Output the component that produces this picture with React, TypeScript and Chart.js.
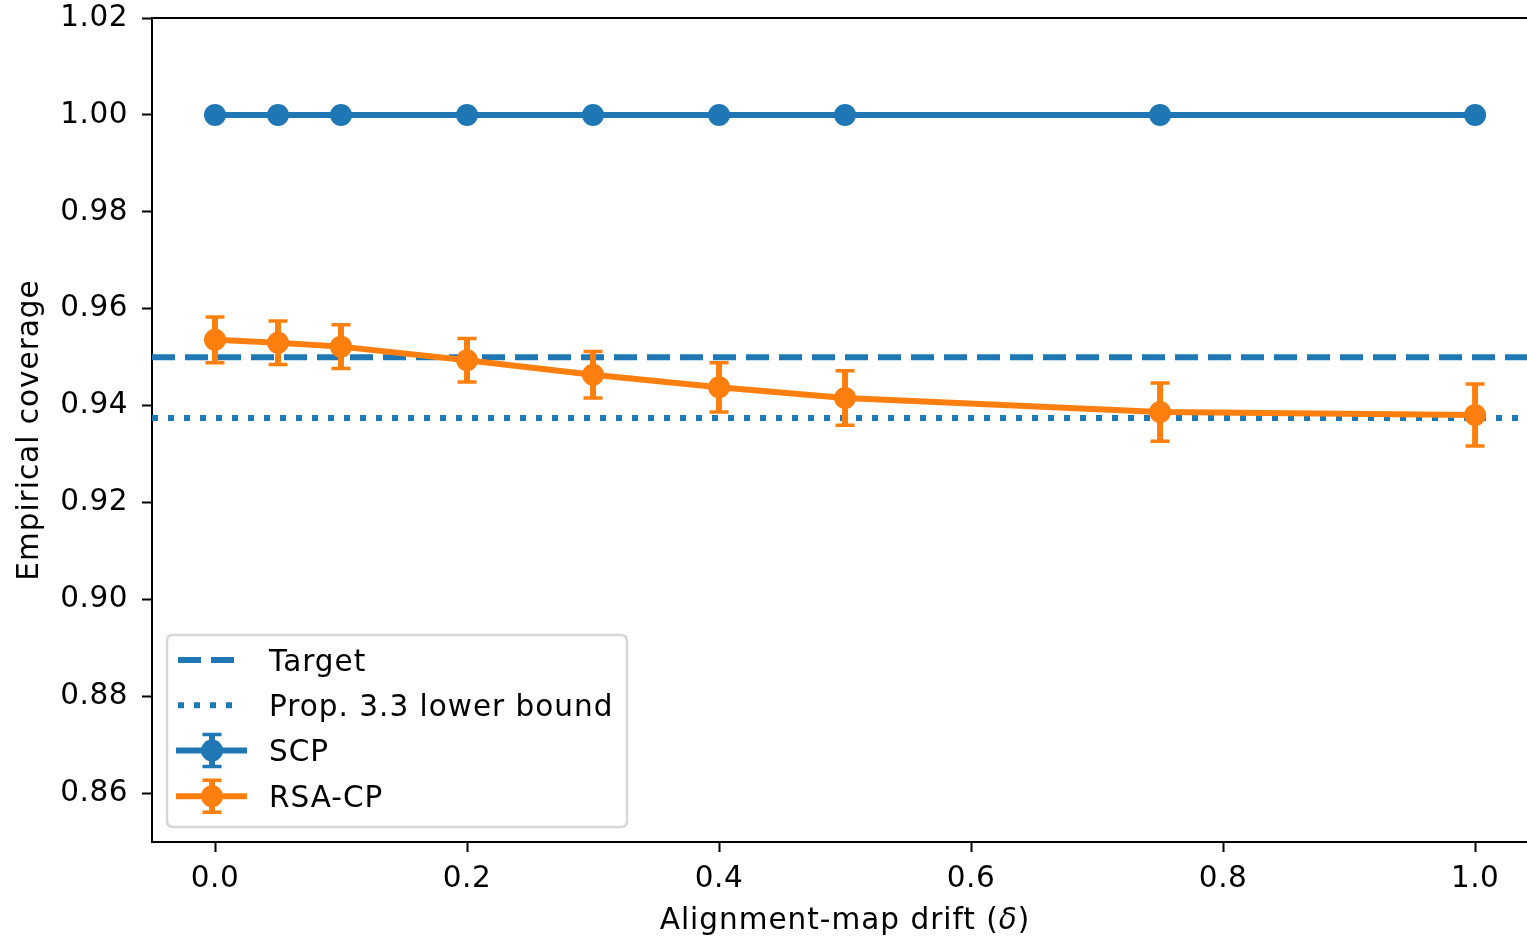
import React, { useEffect, useRef } from 'react';
import { Chart, registerables } from 'chart.js';

Chart.register(...registerables);

// ---------- data ----------
const drift = [0, 0.05, 0.1, 0.2, 0.3, 0.4, 0.5, 0.75, 1.0];
const scpCoverage = [1.0, 1.0, 1.0, 1.0, 1.0, 1.0, 1.0, 1.0, 1.0];
const scpError = [0, 0, 0, 0, 0, 0, 0, 0, 0];
const rsaCoverage = [0.9536, 0.953, 0.9522, 0.9494, 0.9464, 0.9438, 0.9416, 0.9387, 0.9381];
const rsaError = [0.0047, 0.0045, 0.0045, 0.0045, 0.0048, 0.0051, 0.0056, 0.006, 0.0064];
const targetLevel = 0.95;
const lowerBoundLevel = 0.9375;
const xTicks = [0.0, 0.2, 0.4, 0.6, 0.8, 1.0];
const yTicks = [0.86, 0.88, 0.9, 0.92, 0.94, 0.96, 0.98, 1.0, 1.02];
const xRange = [-0.05, 1.0412];
const yRange = [0.85, 1.02];
const xTitle = ['Alignment-map drift (', 'δ', ')'];
const yTitle = 'Empirical coverage';

const BLUE = '#1f77b4';
const ORANGE = '#ff7f0e';
const FONT = "'DejaVu Sans', sans-serif";
const FS = 29.5;

const errorBarPlugin = {
  id: 'errorBars',
  afterDatasetsDraw(chart: any) {
    const { ctx } = chart;
    const xs = chart.scales.x;
    const ys = chart.scales.y;
    chart.data.datasets.forEach((ds: any, di: number) => {
      if (!ds.errors) return;
      const meta = chart.getDatasetMeta(di);
      if (meta.hidden) return;
      ctx.save();
      ctx.strokeStyle = ds.borderColor;
      ds.data.forEach((pt: any, i: number) => {
        const e = ds.errors[i];
        const px = xs.getPixelForValue(pt.x);
        const yt = ys.getPixelForValue(pt.y + e);
        const yb = ys.getPixelForValue(pt.y - e);
        ctx.lineWidth = 6;
        ctx.lineCap = 'butt';
        ctx.beginPath();
        ctx.moveTo(px, yt);
        ctx.lineTo(px, yb);
        ctx.stroke();
        ctx.lineWidth = 3.5;
        ctx.beginPath();
        ctx.moveTo(px - 9.5, yt);
        ctx.lineTo(px + 9.5, yt);
        ctx.moveTo(px - 9.5, yb);
        ctx.lineTo(px + 9.5, yb);
        ctx.stroke();
      });
      ctx.restore();
    });
  },
};

const framePlugin = {
  id: 'frameAndLegend',
  beforeDraw(chart: any) {
    chart.ctx.letterSpacing = '0.5px';
  },
  afterDraw(chart: any) {
    const { ctx, chartArea } = chart;
    const xs = chart.scales.x;
    ctx.save();
    // top spine
    ctx.strokeStyle = '#000';
    ctx.lineWidth = 2;
    ctx.beginPath();
    ctx.moveTo(chartArea.left - 1, chartArea.top);
    ctx.lineTo(chartArea.right, chartArea.top);
    ctx.stroke();

    ctx.letterSpacing = '1px';
    ctx.fillStyle = '#000';

    // x axis title with italic delta
    const cx = xs.getPixelForValue(0.5);
    const baseY = 929;
    const parts = xTitle.map((t, i) => ({ t, f: i === 1 ? `oblique ${FS}px ${FONT}` : `${FS}px ${FONT}` }));
    let total = 0;
    parts.forEach((p) => {
      ctx.font = p.f;
      total += ctx.measureText(p.t).width;
    });
    let x0 = cx - total / 2;
    ctx.textBaseline = 'alphabetic';
    ctx.textAlign = 'left';
    parts.forEach((p) => {
      ctx.font = p.f;
      ctx.fillText(p.t, x0, baseY);
      x0 += ctx.measureText(p.t).width;
    });

    // y axis title
    ctx.save();
    ctx.translate(38, (chartArea.top + chartArea.bottom) / 2);
    ctx.rotate(-Math.PI / 2);
    ctx.font = `${FS}px ${FONT}`;
    ctx.textAlign = 'center';
    ctx.textBaseline = 'alphabetic';
    ctx.fillText(yTitle, 0, 0);
    ctx.restore();

    // legend box
    const bx = 167, by = 635, bw = 460, bh = 192, r = 6;
    ctx.beginPath();
    ctx.moveTo(bx + r, by);
    ctx.lineTo(bx + bw - r, by);
    ctx.quadraticCurveTo(bx + bw, by, bx + bw, by + r);
    ctx.lineTo(bx + bw, by + bh - r);
    ctx.quadraticCurveTo(bx + bw, by + bh, bx + bw - r, by + bh);
    ctx.lineTo(bx + r, by + bh);
    ctx.quadraticCurveTo(bx, by + bh, bx, by + bh - r);
    ctx.lineTo(bx, by + r);
    ctx.quadraticCurveTo(bx, by, bx + r, by);
    ctx.closePath();
    ctx.fillStyle = 'rgba(255,255,255,0.8)';
    ctx.fill();
    ctx.strokeStyle = '#d6d6d6';
    ctx.lineWidth = 2.5;
    ctx.stroke();

    const rows = [660, 705.3, 750.5, 796.2];
    const items = chart.data.datasets
      .filter((d: any) => d.legendOrder !== undefined)
      .sort((a: any, b: any) => a.legendOrder - b.legendOrder);
    items.forEach((ds: any, k: number) => {
      const y = rows[k];
      ctx.save();
      ctx.strokeStyle = ds.borderColor;
      ctx.fillStyle = ds.borderColor;
      if (ds.errors) {
        ctx.lineWidth = 6;
        ctx.setLineDash([]);
        ctx.beginPath();
        ctx.moveTo(176, y);
        ctx.lineTo(247, y);
        ctx.stroke();
        ctx.beginPath();
        ctx.moveTo(212, y - 16);
        ctx.lineTo(212, y + 16);
        ctx.stroke();
        ctx.lineWidth = 3.5;
        ctx.beginPath();
        ctx.moveTo(202.5, y - 16);
        ctx.lineTo(221.5, y - 16);
        ctx.moveTo(202.5, y + 16);
        ctx.lineTo(221.5, y + 16);
        ctx.stroke();
        ctx.beginPath();
        ctx.arc(212, y, 11, 0, Math.PI * 2);
        ctx.fill();
      } else {
        ctx.lineWidth = 6;
        ctx.lineCap = 'butt';
        ctx.setLineDash(ds.borderDash);
        ctx.beginPath();
        ctx.moveTo(178, y);
        ctx.lineTo(237, y);
        ctx.stroke();
      }
      ctx.restore();
      ctx.fillStyle = '#000';
      ctx.font = `${FS}px ${FONT}`;
      ctx.textAlign = 'left';
      ctx.textBaseline = 'alphabetic';
      ctx.fillText(ds.label, 269, y + 10.7);
    });
    ctx.restore();
  },
};

const zeroPad = (s: any) => {
  s.paddingTop = 0;
  s.paddingBottom = 0;
  s.paddingLeft = 0;
  s.paddingRight = 0;
};

export default function App() {
  const ref = useRef<HTMLCanvasElement | null>(null);
  useEffect(() => {
    document.body.style.margin = '0';
    if (!ref.current) return;
    const chart = new Chart(ref.current, {
      type: 'line',
      data: {
        datasets: [
          {
            label: 'Target',
            data: xRange.map((x) => ({ x, y: targetLevel })),
            borderColor: BLUE,
            backgroundColor: BLUE,
            borderWidth: 6,
            borderDash: [23, 10],
            borderCapStyle: 'butt',
            pointRadius: 0,
            order: 10,
            legendOrder: 0,
          } as any,
          {
            label: 'Prop. 3.3 lower bound',
            data: xRange.map((x) => ({ x, y: lowerBoundLevel })),
            borderColor: BLUE,
            backgroundColor: BLUE,
            borderWidth: 6,
            borderDash: [6, 10],
            borderCapStyle: 'butt',
            pointRadius: 0,
            order: 10,
            legendOrder: 1,
          } as any,
          {
            label: 'SCP',
            data: drift.map((x, i) => ({ x, y: scpCoverage[i] })),
            errors: scpError,
            borderColor: BLUE,
            backgroundColor: BLUE,
            borderWidth: 6,
            pointRadius: 11,
            pointBorderWidth: 0,
            pointBackgroundColor: BLUE,
            order: 2,
            legendOrder: 2,
          } as any,
          {
            label: 'RSA-CP',
            data: drift.map((x, i) => ({ x, y: rsaCoverage[i] })),
            errors: rsaError,
            borderColor: ORANGE,
            backgroundColor: ORANGE,
            borderWidth: 6,
            pointRadius: 11,
            pointBorderWidth: 0,
            pointBackgroundColor: ORANGE,
            order: 1,
            legendOrder: 3,
          } as any,
        ],
      },
      options: {
        responsive: false,
        animation: false,
        layout: { autoPadding: false, padding: { top: 18, right: 0, left: 0, bottom: 0 } },
        plugins: { legend: { display: false }, tooltip: { enabled: false } },
        scales: {
          x: {
            type: 'linear',
            min: xRange[0],
            max: xRange[1],
            afterBuildTicks: (s: any) => {
              s.ticks = xTicks.map((v) => ({ value: v }));
            },
            afterFit: (s: any) => {
              s.height = 98;
              zeroPad(s);
            },
            grid: { display: true, drawOnChartArea: false, drawTicks: true, tickLength: 10, tickWidth: 2, tickColor: '#000' },
            border: { display: true, color: '#000', width: 2 },
            ticks: {
              color: '#000',
              padding: 13,
              maxRotation: 0,
              font: { family: FONT, size: FS, lineHeight: 1 },
              callback: (v: any) => Number(v).toFixed(1),
            },
          },
          y: {
            type: 'linear',
            min: yRange[0],
            max: yRange[1],
            afterBuildTicks: (s: any) => {
              s.ticks = yTicks.map((v) => ({ value: v }));
            },
            afterFit: (s: any) => {
              s.width = 152;
              zeroPad(s);
            },
            grid: { display: true, drawOnChartArea: false, drawTicks: true, tickLength: 10, tickWidth: 2, tickColor: '#000' },
            border: { display: true, color: '#000', width: 2 },
            ticks: {
              color: '#000',
              padding: 14,
              font: { family: FONT, size: FS, lineHeight: 1 },
              callback: (v: any) => Number(v).toFixed(2),
            },
          },
        },
      },
      plugins: [errorBarPlugin, framePlugin],
    } as any);
    return () => chart.destroy();
  }, []);
  return (
    <div style={{ position: 'absolute', left: 0, top: 0, width: 1527, height: 940 }}>
      <canvas ref={ref} width={1527} height={940} />
    </div>
  );
}
